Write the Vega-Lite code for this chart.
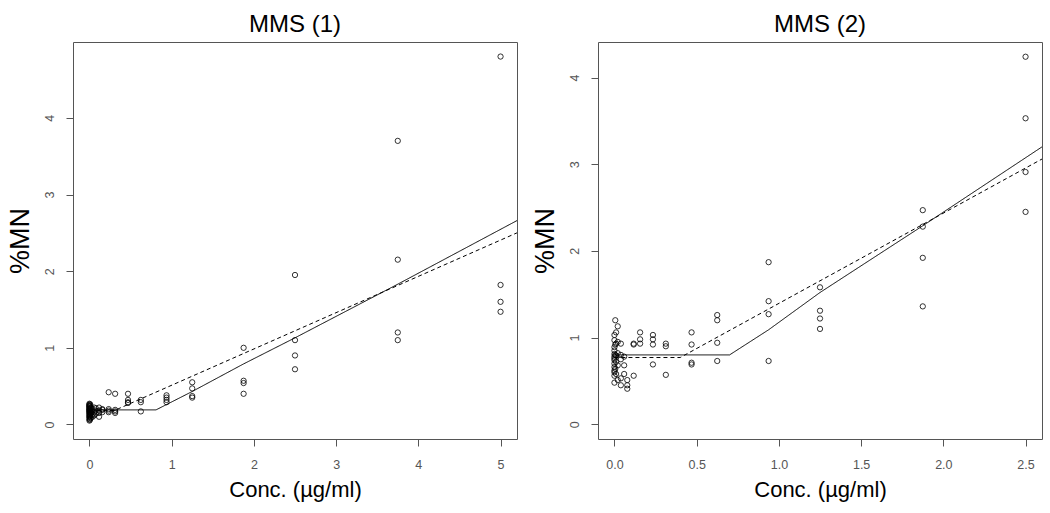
{
  "$schema": "https://vega.github.io/schema/vega-lite/v6.json",
  "padding": {"left": 5, "top": 12, "right": 6, "bottom": 5},
  "background": "white",
  "config": {
    "font": "Liberation Sans",
    "view": {"stroke": "#555555", "strokeWidth": 1},
    "concat": {"spacing": 10},
    "axis": {
      "domain": false, "grid": false, "tickColor": "#555555", "tickSize": 7, "tickWidth": 1,
      "labelColor": "#555555", "labelFontSize": 12.5, "labelFont": "Liberation Sans",
      "titleFont": "Liberation Sans", "titleFontSize": 22, "titleFontWeight": "normal", "titleColor": "#000000"
    },
    "axisX": {"labelPadding": 12, "titlePadding": 9},
    "axisY": {"labelPadding": 10, "labelAngle": 270, "labelAlign": "center", "labelBaseline": "bottom", "titlePadding": 9, "titleFontSize": 27},
    "title": {"fontSize": 24, "fontWeight": "normal", "font": "Liberation Sans", "offset": 5, "color": "#000000"}
  },
  "datasets": {
    "p1": [
      {"c": 0, "mn": 0.05}, {"c": 0, "mn": 0.07}, {"c": 0, "mn": 0.09}, {"c": 0, "mn": 0.10}, {"c": 0, "mn": 0.12},
      {"c": 0, "mn": 0.13}, {"c": 0, "mn": 0.15}, {"c": 0, "mn": 0.16}, {"c": 0, "mn": 0.17}, {"c": 0, "mn": 0.18},
      {"c": 0, "mn": 0.19}, {"c": 0, "mn": 0.20}, {"c": 0, "mn": 0.21}, {"c": 0, "mn": 0.22}, {"c": 0, "mn": 0.23},
      {"c": 0, "mn": 0.24}, {"c": 0, "mn": 0.25}, {"c": 0, "mn": 0.26}, {"c": 0, "mn": 0.27},
      {"c": 0.005, "mn": 0.06}, {"c": 0.005, "mn": 0.11}, {"c": 0.005, "mn": 0.14}, {"c": 0.005, "mn": 0.19}, {"c": 0.005, "mn": 0.24},
      {"c": 0.01, "mn": 0.08}, {"c": 0.01, "mn": 0.13}, {"c": 0.01, "mn": 0.17}, {"c": 0.01, "mn": 0.21}, {"c": 0.01, "mn": 0.26},
      {"c": 0.02, "mn": 0.09}, {"c": 0.02, "mn": 0.15}, {"c": 0.02, "mn": 0.22},
      {"c": 0.039, "mn": 0.10}, {"c": 0.039, "mn": 0.13}, {"c": 0.039, "mn": 0.17}, {"c": 0.039, "mn": 0.20},
      {"c": 0.059, "mn": 0.12}, {"c": 0.059, "mn": 0.16}, {"c": 0.059, "mn": 0.22},
      {"c": 0.078, "mn": 0.14}, {"c": 0.078, "mn": 0.18}, {"c": 0.078, "mn": 0.21},
      {"c": 0.117, "mn": 0.10}, {"c": 0.117, "mn": 0.15}, {"c": 0.117, "mn": 0.18}, {"c": 0.117, "mn": 0.22},
      {"c": 0.156, "mn": 0.16}, {"c": 0.156, "mn": 0.19}, {"c": 0.156, "mn": 0.20},
      {"c": 0.234, "mn": 0.42}, {"c": 0.234, "mn": 0.20}, {"c": 0.234, "mn": 0.18}, {"c": 0.234, "mn": 0.16},
      {"c": 0.3125, "mn": 0.40}, {"c": 0.3125, "mn": 0.19}, {"c": 0.3125, "mn": 0.17}, {"c": 0.3125, "mn": 0.15},
      {"c": 0.469, "mn": 0.40}, {"c": 0.469, "mn": 0.32}, {"c": 0.469, "mn": 0.29}, {"c": 0.469, "mn": 0.28},
      {"c": 0.625, "mn": 0.32}, {"c": 0.625, "mn": 0.29}, {"c": 0.625, "mn": 0.17},
      {"c": 0.9375, "mn": 0.38}, {"c": 0.9375, "mn": 0.35}, {"c": 0.9375, "mn": 0.32}, {"c": 0.9375, "mn": 0.29},
      {"c": 1.25, "mn": 0.55}, {"c": 1.25, "mn": 0.47}, {"c": 1.25, "mn": 0.37}, {"c": 1.25, "mn": 0.35},
      {"c": 1.875, "mn": 1.00}, {"c": 1.875, "mn": 0.57}, {"c": 1.875, "mn": 0.54}, {"c": 1.875, "mn": 0.40},
      {"c": 2.5, "mn": 1.95}, {"c": 2.5, "mn": 1.10}, {"c": 2.5, "mn": 0.90}, {"c": 2.5, "mn": 0.72},
      {"c": 3.75, "mn": 3.70}, {"c": 3.75, "mn": 2.15}, {"c": 3.75, "mn": 1.20}, {"c": 3.75, "mn": 1.10},
      {"c": 5, "mn": 4.80}, {"c": 5, "mn": 1.82}, {"c": 5, "mn": 1.60}, {"c": 5, "mn": 1.47}
    ],
    "p1fit": [
      {"c": 0, "mn": 0.19, "fit": "solid"}, {"c": 0.81, "mn": 0.19, "fit": "solid"}, {"c": 1.25, "mn": 0.43, "fit": "solid"},
      {"c": 1.875, "mn": 0.79, "fit": "solid"}, {"c": 2.5, "mn": 1.13, "fit": "solid"}, {"c": 3.75, "mn": 1.83, "fit": "solid"},
      {"c": 5.2, "mn": 2.66, "fit": "solid"},
      {"c": 0, "mn": 0.18, "fit": "dashed"}, {"c": 0.3, "mn": 0.18, "fit": "dashed"}, {"c": 5.2, "mn": 2.50, "fit": "dashed"}
    ],
    "p2": [
      {"c": 0, "mn": 1.03}, {"c": 0, "mn": 0.97}, {"c": 0, "mn": 0.89}, {"c": 0, "mn": 0.85}, {"c": 0, "mn": 0.81},
      {"c": 0, "mn": 0.78}, {"c": 0, "mn": 0.76}, {"c": 0, "mn": 0.74}, {"c": 0, "mn": 0.70}, {"c": 0, "mn": 0.66},
      {"c": 0, "mn": 0.62}, {"c": 0, "mn": 0.60}, {"c": 0, "mn": 0.56}, {"c": 0, "mn": 0.48},
      {"c": 0.005, "mn": 1.20}, {"c": 0.005, "mn": 0.92}, {"c": 0.005, "mn": 0.80}, {"c": 0.005, "mn": 0.64},
      {"c": 0.01, "mn": 1.06}, {"c": 0.01, "mn": 0.93}, {"c": 0.01, "mn": 0.79}, {"c": 0.01, "mn": 0.72}, {"c": 0.01, "mn": 0.58},
      {"c": 0.02, "mn": 1.13}, {"c": 0.02, "mn": 0.95}, {"c": 0.02, "mn": 0.82}, {"c": 0.02, "mn": 0.68}, {"c": 0.02, "mn": 0.51},
      {"c": 0.039, "mn": 0.93}, {"c": 0.039, "mn": 0.80}, {"c": 0.039, "mn": 0.75}, {"c": 0.039, "mn": 0.53}, {"c": 0.039, "mn": 0.45},
      {"c": 0.059, "mn": 0.78}, {"c": 0.059, "mn": 0.68}, {"c": 0.059, "mn": 0.58},
      {"c": 0.078, "mn": 0.51}, {"c": 0.078, "mn": 0.45}, {"c": 0.078, "mn": 0.41},
      {"c": 0.117, "mn": 0.93}, {"c": 0.117, "mn": 0.92}, {"c": 0.117, "mn": 0.56},
      {"c": 0.156, "mn": 1.06}, {"c": 0.156, "mn": 0.98}, {"c": 0.156, "mn": 0.93},
      {"c": 0.234, "mn": 1.03}, {"c": 0.234, "mn": 0.98}, {"c": 0.234, "mn": 0.92}, {"c": 0.234, "mn": 0.69},
      {"c": 0.3125, "mn": 0.93}, {"c": 0.3125, "mn": 0.90}, {"c": 0.3125, "mn": 0.57},
      {"c": 0.469, "mn": 1.06}, {"c": 0.469, "mn": 0.92}, {"c": 0.469, "mn": 0.71}, {"c": 0.469, "mn": 0.69},
      {"c": 0.625, "mn": 1.26}, {"c": 0.625, "mn": 1.20}, {"c": 0.625, "mn": 0.94}, {"c": 0.625, "mn": 0.73},
      {"c": 0.9375, "mn": 1.87}, {"c": 0.9375, "mn": 1.42}, {"c": 0.9375, "mn": 1.27}, {"c": 0.9375, "mn": 0.73},
      {"c": 1.25, "mn": 1.58}, {"c": 1.25, "mn": 1.31}, {"c": 1.25, "mn": 1.22}, {"c": 1.25, "mn": 1.10},
      {"c": 1.875, "mn": 2.47}, {"c": 1.875, "mn": 2.28}, {"c": 1.875, "mn": 1.92}, {"c": 1.875, "mn": 1.36},
      {"c": 2.5, "mn": 4.24}, {"c": 2.5, "mn": 3.53}, {"c": 2.5, "mn": 2.91}, {"c": 2.5, "mn": 2.45}
    ],
    "p2fit": [
      {"c": 0, "mn": 0.80, "fit": "solid"}, {"c": 0.70, "mn": 0.80, "fit": "solid"}, {"c": 0.9375, "mn": 1.09, "fit": "solid"},
      {"c": 1.25, "mn": 1.52, "fit": "solid"}, {"c": 1.875, "mn": 2.29, "fit": "solid"}, {"c": 2.6, "mn": 3.20, "fit": "solid"},
      {"c": 0, "mn": 0.77, "fit": "dashed"}, {"c": 0.40, "mn": 0.77, "fit": "dashed"}, {"c": 2.6, "mn": 3.06, "fit": "dashed"}
    ]
  },
  "hconcat": [
    {
      "title": "MMS (1)",
      "width": 444,
      "height": 397,
      "layer": [
        {
          "data": {"name": "p1"},
          "mark": {"type": "point", "shape": "circle", "filled": false, "color": "#000000", "size": 28, "strokeWidth": 0.8, "opacity": 1},
          "encoding": {
            "x": {"field": "c", "type": "quantitative", "title": "Conc. (µg/ml)",
                  "scale": {"domain": [-0.2, 5.2], "nice": false, "zero": false},
                  "axis": {"values": [0, 1, 2, 3, 4, 5], "format": "d"}},
            "y": {"field": "mn", "type": "quantitative", "title": "%MN",
                  "scale": {"domain": [-0.19, 4.99], "nice": false, "zero": false},
                  "axis": {"values": [0, 1, 2, 3, 4, 5], "format": "d"}}
          }
        },
        {
          "data": {"name": "p1fit"},
          "mark": {"type": "line", "color": "#000000", "strokeWidth": 1},
          "encoding": {
            "x": {"field": "c", "type": "quantitative"},
            "y": {"field": "mn", "type": "quantitative"},
            "detail": {"field": "fit", "type": "nominal"},
            "strokeDash": {"field": "fit", "type": "nominal", "scale": {"domain": ["solid", "dashed"], "range": [[1, 0], [4, 3]]}, "legend": null}
          }
        }
      ]
    },
    {
      "title": "MMS (2)",
      "width": 444,
      "height": 397,
      "layer": [
        {
          "data": {"name": "p2"},
          "mark": {"type": "point", "shape": "circle", "filled": false, "color": "#000000", "size": 28, "strokeWidth": 0.8, "opacity": 1},
          "encoding": {
            "x": {"field": "c", "type": "quantitative", "title": "Conc. (µg/ml)",
                  "scale": {"domain": [-0.1, 2.6], "nice": false, "zero": false},
                  "axis": {"values": [0, 0.5, 1, 1.5, 2, 2.5], "format": ".1f"}},
            "y": {"field": "mn", "type": "quantitative", "title": "%MN",
                  "scale": {"domain": [-0.17, 4.41], "nice": false, "zero": false},
                  "axis": {"values": [0, 1, 2, 3, 4], "format": "d"}}
          }
        },
        {
          "data": {"name": "p2fit"},
          "mark": {"type": "line", "color": "#000000", "strokeWidth": 1},
          "encoding": {
            "x": {"field": "c", "type": "quantitative"},
            "y": {"field": "mn", "type": "quantitative"},
            "detail": {"field": "fit", "type": "nominal"},
            "strokeDash": {"field": "fit", "type": "nominal", "scale": {"domain": ["solid", "dashed"], "range": [[1, 0], [4, 3]]}, "legend": null}
          }
        }
      ]
    }
  ]
}
